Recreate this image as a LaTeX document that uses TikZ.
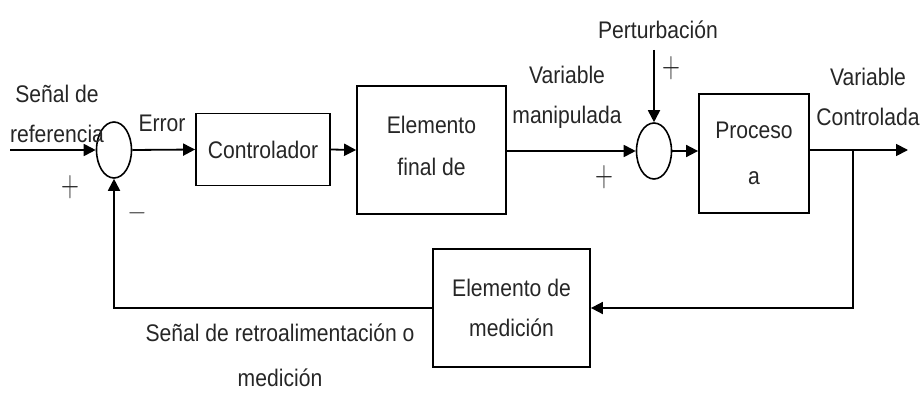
\documentclass[tikz,border=0pt]{standalone}
\usepackage{fontspec}
\setmainfont[FakeStretch=0.88]{Liberation Sans}
\usetikzlibrary{shapes.geometric,arrows.meta}
\begin{document}
\begin{tikzpicture}[x=1pt,y=-1pt,
  every node/.style={font=\fontsize{24}{40}\selectfont, text=black!85},
  blk/.style={draw, line width=1.8pt, inner sep=0pt},
  sumpt/.style={draw, ellipse, line width=1.6pt, minimum width=35pt, minimum height=56pt, inner sep=0pt},
  arr/.style={line width=1.8pt, -{Triangle[length=12pt,width=12pt]}},
  sign/.style={font=\fontsize{42}{42}\selectfont, inner sep=0pt},
  lbl/.style={align=center, inner sep=0pt}]
\useasboundingbox (0,0) rectangle (920,393);
% blocks
\node[sumpt] (s1) at (114,150) {};
\node[blk, minimum width=134pt, minimum height=72pt] (ctrl) at (263,149.5) {Controlador};
\node[blk, minimum width=149pt, minimum height=128pt] (fin) at (431.5,150) {};
\node[lbl] (fintext) at (431.5,146) {Elemento\\[2pt]final de};
\node[sumpt] (s2) at (654,151) {};
\node[blk, minimum width=110pt, minimum height=119pt, align=center] (proc) at (754,153.5) {Proceso\\[6pt]a};
\node[blk, minimum width=157pt, minimum height=118pt, align=center] (med) at (511.5,308) {Elemento de\\medición};
% coordinates
\coordinate (in) at (10,150);
\coordinate (out) at (908,150);
\coordinate (br) at (853,150);
\coordinate (pt) at (654,50);
% connectors
\draw[arr] (in) -- (s1.west);
\draw[arr] (s1.east) -- (ctrl.west);
\draw[arr] (ctrl.east) -- (fin.west);
\draw[arr] (fin.east |- s2.west) -- (s2.west);
\draw[arr] (s2.east) -- (proc.west |- s2.east);
\draw[arr] (proc.east |- out) -- (out);
\draw[arr] (br) |- (med.east);
\draw[arr] (med.west) -| (s1.south);
\draw[arr] (pt) -- (s2.north);
% labels
\node[lbl] (ref) at (57,114) {Señal de\\referencia};
\node[lbl] (err) at (162,123) {Error};
\node[lbl] (vm) at (567,97) {Variable\\manipulada};
\node[lbl] (vc) at (868,97) {Variable\\Controlada};
\node[lbl] (pert) at (658,30) {Perturbación};
\node[lbl] (fb1) at (280,333) {Señal de retroalimentación o};
\node[lbl] (fb2) at (280,378) {medición};
\node[sign] (p1) at (70,187) {\scalebox{1}[1.5]{$+$}};
\node[sign] (m1) at (137,213) {$-$};
\node[sign] (p2) at (604,177) {\scalebox{1}[1.5]{$+$}};
\node[sign] (p3) at (671,68) {\scalebox{1}[1.5]{$+$}};
\end{tikzpicture}
\end{document}
